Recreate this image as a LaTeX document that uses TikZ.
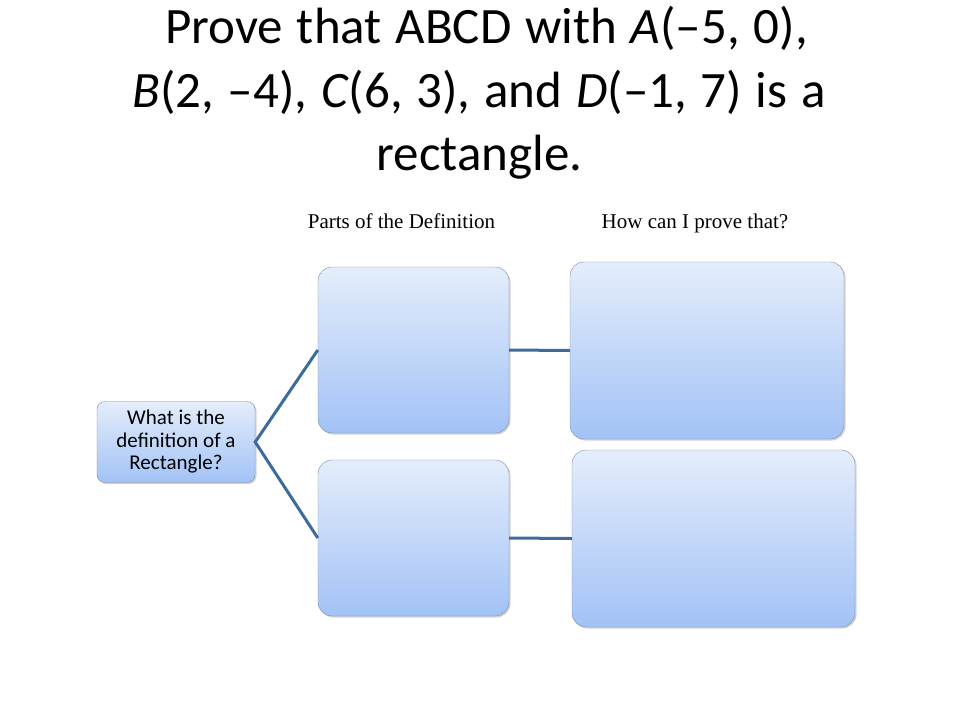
\documentclass[tikz,border=0pt]{standalone}
\usepackage{fontspec}
\setmainfont{Carlito}
\newfontfamily\headfont{Liberation Serif}
\usepackage{tikz}
\usetikzlibrary{positioning, shadows}
\newcommand{\titlefont}{\fontsize{51}{62}\selectfont\spaceskip 0.27em\relax}
\definecolor{linkblue}{RGB}{62,106,158}
\definecolor{boxtop}{RGB}{228,237,251}
\definecolor{boxbot}{RGB}{162,194,246}
\definecolor{boxline}{RGB}{128,140,160}
\tikzstyle{part} = [rectangle, rounded corners=14pt, draw=boxline, top color=boxtop, bottom color=boxbot, drop shadow={opacity=0.35, shadow xshift=1.5pt, shadow yshift=-1.5pt}]
\tikzstyle{question} = [rectangle, rounded corners=8pt, draw=boxline, top color=boxtop, bottom color=boxbot, align=center, font=\fontsize{21}{22.5}\selectfont, drop shadow={opacity=0.35, shadow xshift=1.5pt, shadow yshift=-1.5pt}]
\tikzstyle{head} = [anchor=base, font=\headfont\fontsize{21}{24}\selectfont]
\tikzstyle{titleline} = [anchor=base, inner sep=0pt, font=\titlefont]
\tikzstyle{link} = [draw=linkblue, line width=3pt]

\begin{document}
\begin{tikzpicture}[x=1pt,y=-1pt]
\useasboundingbox[fill=white] (0,0) rectangle (960,720);

\node (title1) [titleline] at (486.5,43) {Prove that ABCD with \textit{A}(–5, 0),};
\node (title2) [titleline] at (479,107) {\textit{B}(2, –4), \textit{C}(6, 3), and \textit{D}(–1, 7) is a};
\node (title3) [titleline] at (479.5,170) {rectangle.};

\node (defq) [question, minimum width=158pt, minimum height=81pt] at (176,442) {What is the\\definition of a\\Rectangle?};

\node (part1) [part, minimum width=191pt, minimum height=166pt] at (413.5,350) {};
\node (part2) [part, minimum width=191pt, minimum height=156pt] at (413.5,538) {};
\node (prove1) [part, minimum width=274pt, minimum height=177pt] at (707,350.5) {};
\node (prove2) [part, minimum width=283pt, minimum height=177pt] at (713.5,538.5) {};

\node (partshead) [head] at (401.5,228) {Parts of the Definition};
\node (provehead) [head] at (695,228) {How can I prove that?};

\draw[link] (part1.west) -- (defq.east) -- (part2.west);
\draw[link] (part1.east) -- (prove1.west);
\draw[link] (part2.east) -- (prove2.west);

\end{tikzpicture}
\end{document}
